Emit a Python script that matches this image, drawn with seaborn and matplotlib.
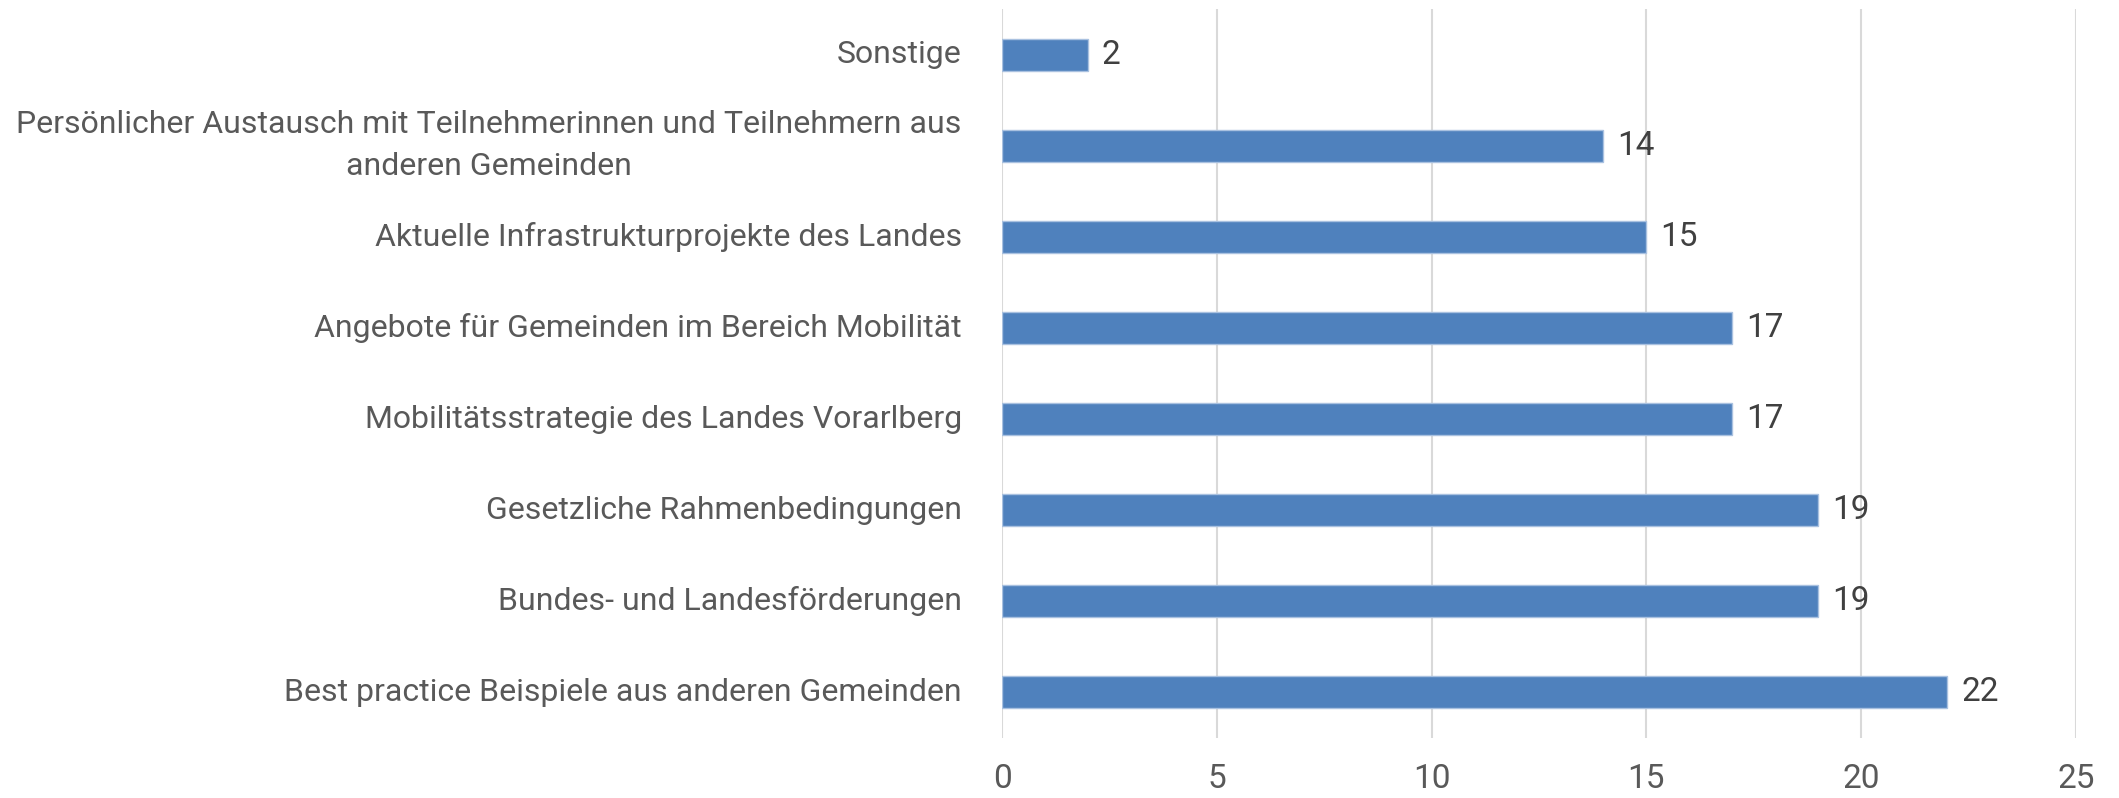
import matplotlib
matplotlib.use("Agg")
import matplotlib.pyplot as plt
import seaborn as sns
import pandas as pd

categories = [
    "Sonstige",
    "Persönlicher Austausch mit Teilnehmerinnen und Teilnehmern aus\nanderen Gemeinden",
    "Aktuelle Infrastrukturprojekte des Landes",
    "Angebote für Gemeinden im Bereich Mobilität",
    "Mobilitätsstrategie des Landes Vorarlberg",
    "Gesetzliche Rahmenbedingungen",
    "Bundes- und Landesförderungen",
    "Best practice Beispiele aus anderen Gemeinden",
]
values = [2, 14, 15, 17, 17, 19, 19, 22]
xticks = [0, 5, 10, 15, 20, 25]

sns.set_theme(style="white")
plt.rcParams["font.family"] = ["Roboto", "DejaVu Sans"]

df = pd.DataFrame({"cat": categories, "val": values})

fig = plt.figure(figsize=(21.19, 7.98), dpi=100)
ax = fig.add_axes([0.4729, 0.0752, 0.9797 - 0.4729, 0.9887 - 0.0752])

sns.barplot(data=df, y="cat", x="val", orient="h", color="#4F81BD",
            saturation=1, width=0.35, edgecolor="#A9C1E0", linewidth=1.0, ax=ax)

ax.set_xlim(0, 25)
ax.set_xticks(xticks)
ax.set_ylim(len(categories) - 0.5, -0.5)
ax.set_xlabel("")
ax.set_ylabel("")
ax.grid(axis="x", color="#D9D9D9", linewidth=1.5)
ax.set_axisbelow(True)
for s in ax.spines.values():
    s.set_visible(False)

ax.tick_params(axis="y", length=0, labelleft=False)
ax.tick_params(axis="x", length=0, pad=18, labelsize=24, labelcolor="#595959")

# category labels (drawn as text to control multi-line spacing)
for i, cat in enumerate(categories):
    ax.annotate(cat, xy=(0, i), xycoords=ax.get_yaxis_transform(),
                xytext=(-29, 0), textcoords="offset points",
                ha="right", va="center", multialignment="center",
                linespacing=1.55, fontsize=23, color="#595959")

for c in ax.containers:
    ax.bar_label(c, labels=[str(v) for v in values], padding=10,
                 fontsize=24, color="#404040")

fig.savefig("out.png", dpi=100)
